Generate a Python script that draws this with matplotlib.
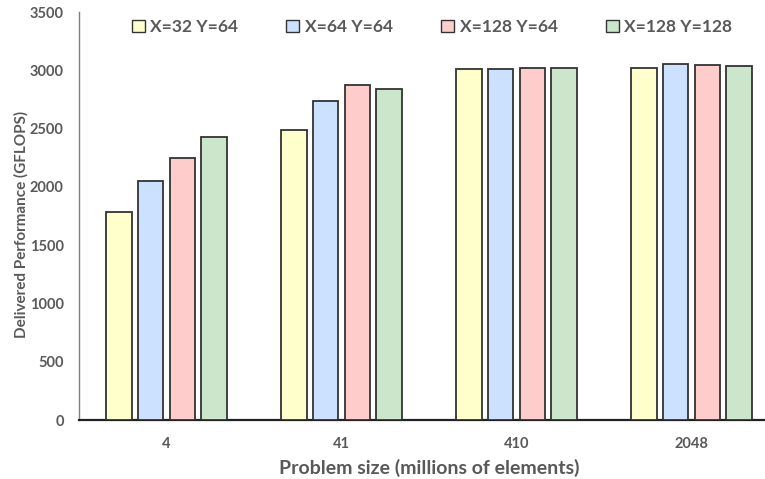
import numpy as np
import matplotlib.pyplot as plt
from matplotlib.patches import Patch

sizes = ["4", "41", "410", "2048"]
series = ["X=32 Y=64", "X=64 Y=64", "X=128 Y=64", "X=128 Y=128"]
x32_y64 = [1785, 2490, 3015, 3020]
x64_y64 = [2050, 2735, 3015, 3050]
x128_y64 = [2250, 2875, 3020, 3042]
x128_y128 = [2430, 2840, 3020, 3033]
colors = ["#FFFFCC", "#CCE0FF", "#FFCCCC", "#CCE6CC"]

plt.rcParams['font.family'] = ['Lato', 'DejaVu Sans']
gray = "#595959"

fig = plt.figure(figsize=(7.65, 4.79), dpi=100)
# plot area runs a little past the right edge, as in the original (cropped) chart
ax = fig.add_axes([79 / 765, 59 / 479, 700 / 765, 408 / 479])

x = np.arange(len(sizes))
step = 0.181
width = 0.145
for i, (vals, c) in enumerate(zip([x32_y64, x64_y64, x128_y64, x128_y128], colors)):
    ax.bar(x + (i - 1.5) * step, vals, width, color=c, edgecolor="#333333",
           linewidth=1.3, zorder=3)

ax.set_xlim(-0.5, 3.5)
ax.set_ylim(0, 3500)
ax.set_yticks(range(0, 3501, 500))
ax.set_xticks(x)
ax.set_xticklabels(sizes)
ax.tick_params(axis='both', length=0, colors=gray, labelsize=10.5)
ax.tick_params(axis='y', pad=11)
ax.tick_params(axis='x', pad=12)
for lab in ax.get_yticklabels() + ax.get_xticklabels():
    lab.set_fontweight('bold')

for s in ["top", "right"]:
    ax.spines[s].set_visible(False)
ax.spines["left"].set_color("#7f7f7f")
ax.spines["left"].set_linewidth(1.0)
ax.spines["bottom"].set_color("#222222")
ax.spines["bottom"].set_linewidth(1.6)

ax.set_ylabel("Delivered Performance (GFLOPS)", fontsize=11, fontweight='bold',
              color=gray, va='center')
ax.yaxis.set_label_coords(-0.083, 0.48)
ax.set_xlabel("Problem size (millions of elements)", fontsize=14, fontweight='bold',
              color=gray, labelpad=6)

handles = [Patch(facecolor=c, edgecolor="#333333", linewidth=1.0) for c in colors]
leg = fig.legend(handles, series, loc='center left', bbox_to_anchor=(116 / 765, 1 - 27 / 479),
                 ncol=4, frameon=False, handlelength=0.75, handleheight=0.75,
                 handletextpad=0.3, columnspacing=2.8, prop={'weight': 'bold', 'size': 12.5})
for t in leg.get_texts():
    t.set_color(gray)

fig.savefig("out.png", dpi=100)
